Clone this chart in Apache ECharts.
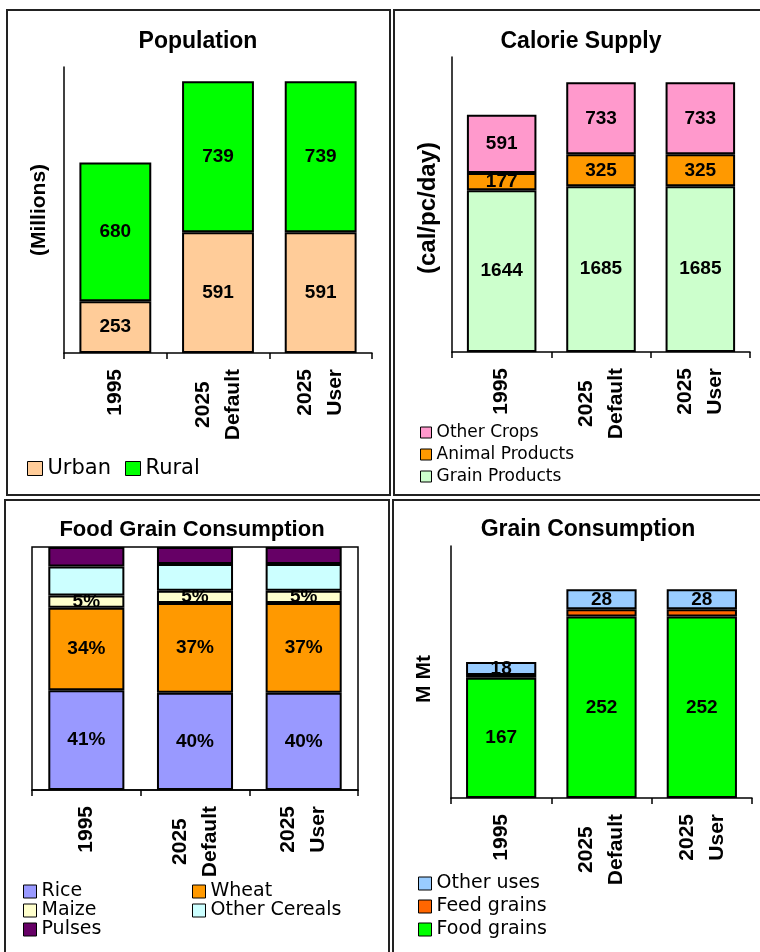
<!DOCTYPE html>
<html>
<head>
<meta charset="utf-8">
<script src="https://cdn.jsdelivr.net/npm/echarts@6/dist/echarts.min.js"></script>
<style>
  html, body { margin: 0; padding: 0; background: #fff; }
  #c { width: 760px; height: 952px; }
</style>
</head>
<body>
<div id="c"></div>
<script>
// Scenario categories shared by all four panels
const categories = ['1995', '2025 Default', '2025 User'];

// Population (millions)
const urban = [253, 591, 591];
const rural = [680, 739, 739];

// Calorie supply (cal/pc/day)
const grainProducts = [1644, 1685, 1685];
const animalProducts = [177, 325, 325];
const otherCrops = [591, 733, 733];

// Food grain consumption shares (%)
const rice = [41, 40, 40];
const wheat = [34, 37, 37];
const maize = [5, 5, 5];
const otherCereals = [12, 11, 11];
const pulses = [8, 7, 7];

// Grain consumption (M Mt)
const foodGrains = [167, 252, 252];
const feedGrains = [4, 10, 10];
const otherUses = [18, 28, 28];

// Panel titles and y-axis captions
const titles = ['Population', 'Calorie Supply', 'Food Grain Consumption', 'Grain Consumption'];
const yNames = ['(Millions)', '(cal/pc/day)', '', 'M Mt'];
const yMax = [1400, 3000, 100, 350];

const BOLD = '"Liberation Sans", Arial, sans-serif';
const PLAIN = '"DejaVu Sans", sans-serif';

const chart = echarts.init(document.getElementById('c'), null, { renderer: 'canvas' });

const grids = [
  { left: 64, top: 67, width: 308, height: 286 },
  { left: 452, top: 57, width: 298, height: 295 },
  { left: 32, top: 547, width: 326, height: 243, show: true, borderColor: '#000', borderWidth: 1.5, backgroundColor: 'transparent' },
  { left: 451, top: 546, width: 301, height: 252 }
].map(g => Object.assign({ outerBoundsMode: 'none', containLabel: false }, g));

const xAxes = grids.map((g, i) => ({
  type: 'category',
  gridIndex: i,
  data: categories,
  axisLine: { show: true, lineStyle: { color: '#000', width: 1.5 } },
  axisTick: { show: true, length: 6, lineStyle: { color: '#000', width: 1.5 } },
  axisLabel: {
    interval: 0,
    rotate: 90,
    margin: 16,
    formatter: v => v.split(' ').map(s => '{c|' + s + '}').join('\n'),
    rich: {
      c: { align: 'center', fontFamily: BOLD, fontWeight: 'bold', fontSize: 21, lineHeight: 30, color: '#000' }
    }
  },
  splitLine: { show: false }
}));

const yAxes = grids.map((g, i) => ({
  type: 'value',
  gridIndex: i,
  min: 0,
  max: yMax[i],
  axisLine: { show: i !== 2, lineStyle: { color: '#000', width: 1.5 } },
  axisTick: { show: false },
  axisLabel: { show: false },
  splitLine: { show: false }
}));

function bar(name, data, idx, color, showLabel, suffix) {
  return {
    type: 'bar',
    name: name,
    data: data,
    xAxisIndex: idx,
    yAxisIndex: idx,
    stack: 'panel' + idx,
    barWidth: '70%',
    itemStyle: { color: color, borderColor: '#000', borderWidth: 2 },
    label: {
      show: showLabel,
      position: 'inside',
      color: '#000',
      fontFamily: BOLD,
      fontWeight: 'bold',
      fontSize: 19,
      textBorderWidth: 0,
      formatter: p => p.value + (suffix || '')
    },
    emphasis: { disabled: true }
  };
}

const series = [
  bar('Urban', urban, 0, '#FFCC99', true),
  bar('Rural', rural, 0, '#00FF00', true),

  bar('Grain Products', grainProducts, 1, '#CCFFCC', true),
  bar('Animal Products', animalProducts, 1, '#FF9900', true),
  bar('Other Crops', otherCrops, 1, '#FF99CC', true),

  bar('Rice', rice, 2, '#9999FF', true, '%'),
  bar('Wheat', wheat, 2, '#FF9900', true, '%'),
  bar('Maize', maize, 2, '#FFFFCC', true, '%'),
  bar('Other Cereals', otherCereals, 2, '#CCFFFF', false),
  bar('Pulses', pulses, 2, '#660066', false),

  bar('Food grains', foodGrains, 3, '#00FF00', true),
  bar('Feed grains', feedGrains, 3, '#FF6600', false),
  bar('Other uses', otherUses, 3, '#99CCFF', true)
];

function legend(data, left, top, opts) {
  return Object.assign({
    data: data,
    left: left,
    top: top,
    padding: 0,
    icon: 'rect',
    orient: 'vertical',
    selectedMode: false,
    itemStyle: { borderColor: '#000', borderWidth: 1 },
    textStyle: { fontFamily: PLAIN, color: '#000' }
  }, opts);
}

const legends = [
  legend(['Urban', 'Rural'], 27, 458, { orient: 'horizontal', itemWidth: 15, itemHeight: 14, itemGap: 14, textStyle: { fontFamily: PLAIN, fontSize: 21, color: '#000' } }),
  legend(['Other Crops', 'Animal Products', 'Grain Products'], 420, 424, { itemWidth: 11, itemHeight: 11, itemGap: 5, textStyle: { fontFamily: PLAIN, fontSize: 17, color: '#000' } }),
  legend(['Rice', 'Maize', 'Pulses'], 23, 882, { itemWidth: 13, itemHeight: 13, itemGap: 0, textStyle: { fontFamily: PLAIN, fontSize: 19, color: '#000' } }),
  legend(['Wheat', 'Other Cereals'], 192, 882, { itemWidth: 13, itemHeight: 13, itemGap: 0, textStyle: { fontFamily: PLAIN, fontSize: 19, color: '#000' } }),
  legend(['Other uses', 'Feed grains', 'Food grains'], 418, 874, { itemWidth: 13, itemHeight: 13, itemGap: 4, textStyle: { fontFamily: PLAIN, fontSize: 19, color: '#000' } })
];

// Panel frames, titles and rotated axis captions
const frames = [
  { x: 7, y: 10, width: 383, height: 485 },
  { x: 394, y: 10, width: 380, height: 485 },
  { x: 5, y: 500, width: 384, height: 470 },
  { x: 393, y: 500, width: 380, height: 470 }
];
const titlePos = [[198, 42], [581, 42], [192, 530], [588, 530]];
const yNamePos = [[39, 210], [428, 208], null, [424, 679]];
const yNameFont = ['bold 21px ' + BOLD, 'bold 24px ' + BOLD, '', 'bold 21px ' + BOLD];

const graphics = [];
frames.forEach(f => graphics.push({
  type: 'rect', shape: f, silent: true,
  style: { fill: 'none', stroke: '#222', lineWidth: 2 }
}));
titles.forEach((t, i) => graphics.push({
  type: 'text', x: titlePos[i][0], y: titlePos[i][1], silent: true,
  style: { text: t, font: 'bold ' + (i === 2 ? 22 : 23) + 'px ' + BOLD, fill: '#000',
           align: 'center', verticalAlign: 'middle', textAlign: 'center', textVerticalAlign: 'middle' }
}));
yNames.forEach((t, i) => {
  if (!t) return;
  graphics.push({
    type: 'text', x: yNamePos[i][0], y: yNamePos[i][1], rotation: Math.PI / 2, silent: true,
    style: { text: t, font: yNameFont[i], fill: '#000',
             align: 'center', verticalAlign: 'middle', textAlign: 'center', textVerticalAlign: 'middle' }
  });
});

chart.setOption({
  animation: false,
  backgroundColor: '#fff',
  grid: grids,
  xAxis: xAxes,
  yAxis: yAxes,
  legend: legends,
  series: series,
  graphic: graphics
});
</script>
</body>
</html>
